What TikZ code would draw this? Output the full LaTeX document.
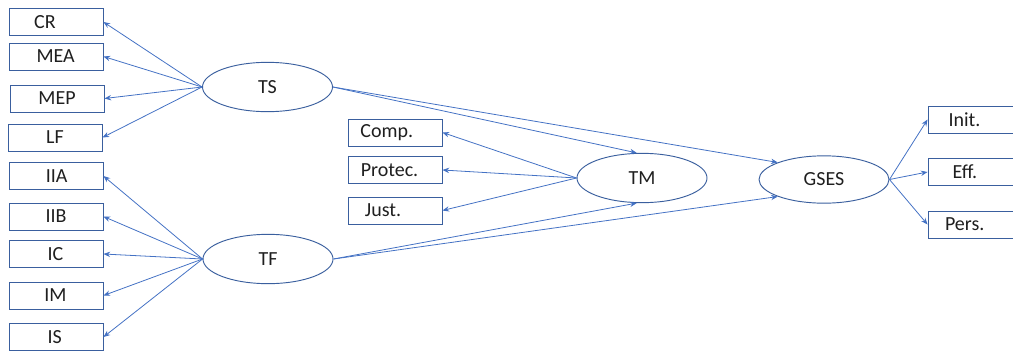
\documentclass[tikz,border=0pt]{standalone}
\usepackage{fontspec}
\setmainfont{Carlito}
\usetikzlibrary{arrows.meta,shapes.geometric}
\definecolor{edgeblue}{HTML}{4472C4}
\definecolor{shapeblue}{HTML}{3A5F9E}
\definecolor{ink}{HTML}{1F1F1F}
\tikzset{
  box/.style={draw=shapeblue, line width=0.7pt, minimum width=70.5pt, minimum height=20.25pt, inner sep=0pt},
  latent/.style={ellipse, draw=shapeblue, line width=0.7pt, minimum width=97.5pt, minimum height=37pt, inner sep=0pt,
    text=ink, font=\fontsize{15}{17}\selectfont},
  lbl/.style={text=ink, font=\fontsize{15}{17}\selectfont, inner sep=0pt},
  path/.style={draw=edgeblue, line width=0.6pt, -{Stealth[length=5pt,width=4pt]}}
}
\begin{document}
\begin{tikzpicture}[x=0.75pt,y=-0.75pt]
\useasboundingbox (0,0) rectangle (1013,354);
\clip (0,0) rectangle (1013,354);

% indicator boxes of TS
\node[box] (CR)  at (56,22)   {};
\node[box] (MEA) at (56,56.5) {};
\node[box] (MEP) at (57,98.5) {};
\node[box] (LF)  at (55,137.5){};
% indicator boxes of TF
\node[box] (IIA) at (56,176)  {};
\node[box] (IIB) at (56,216.5){};
\node[box] (IC)  at (56,254)  {};
\node[box] (IM)  at (56,295.5){};
\node[box] (IS)  at (56,337)  {};
% indicator boxes of TM
\node[box] (Comp)   at (395,132.5) {};
\node[box] (Protec) at (395,170)   {};
\node[box] (Just)   at (395,210.5) {};
% indicator boxes of GSES
\node[box] (Init) at (975,119.5) {};
\node[box] (Eff)  at (975,172)   {};
\node[box] (Pers) at (975,224.5) {};

% box labels
\node[lbl] (tCR)  at (45,22)     {CR};
\node[lbl] (tMEA) at (55.7,56.5) {MEA};
\node[lbl] (tMEP) at (57,98.5)   {MEP};
\node[lbl] (tLF)  at (55,137.5)  {LF};
\node[lbl] (tIIA) at (56.7,176)  {IIA};
\node[lbl] (tIIB) at (56,216.5)  {IIB};
\node[lbl] (tIC)  at (55.5,254)  {IC};
\node[lbl] (tIM)  at (55.5,295.5){IM};
\node[lbl] (tIS)  at (54.7,337)  {IS};
\node[lbl] (tComp)   at (386.8,132.5) {Comp.};
\node[lbl] (tProtec) at (389.5,170)   {Protec.};
\node[lbl] (tJust)   at (383,210.5)   {Just.};
\node[lbl] (tInit) at (964.5,119.5) {Init.};
\node[lbl] (tEff)  at (965,172)     {Eff.};
\node[lbl] (tPers) at (964.7,224.5) {Pers.};

% latent variables
\node[latent] (TS)   at (267.5,87)  {TS};
\node[latent] (TF)   at (268,259)   {TF};
\node[latent] (TM)   at (642,178)   {TM};
\node[latent, minimum height=35.5pt] (GSES) at (824,179.5) {GSES};

% measurement paths
\foreach \b in {CR,MEA,MEP,LF} \draw[path] (TS.west) -- (\b.east);
\foreach \b in {IIA,IIB,IC,IM,IS} \draw[path] (TF.west) -- (\b.east);
\foreach \b in {Comp,Protec,Just} \draw[path] (TM.west) -- (\b.east);
\foreach \b in {Init,Eff,Pers} \draw[path] (GSES.east) -- (\b.west);

% structural paths
\draw[path] (TS.east) -- ([xshift=-4]TM.north);
\draw[path] (TS.east) -- (GSES.north west);
\draw[path] (TF.east) -- ([xshift=-4]TM.south);
\draw[path] (TF.east) -- (GSES.south west);
\end{tikzpicture}
\end{document}
